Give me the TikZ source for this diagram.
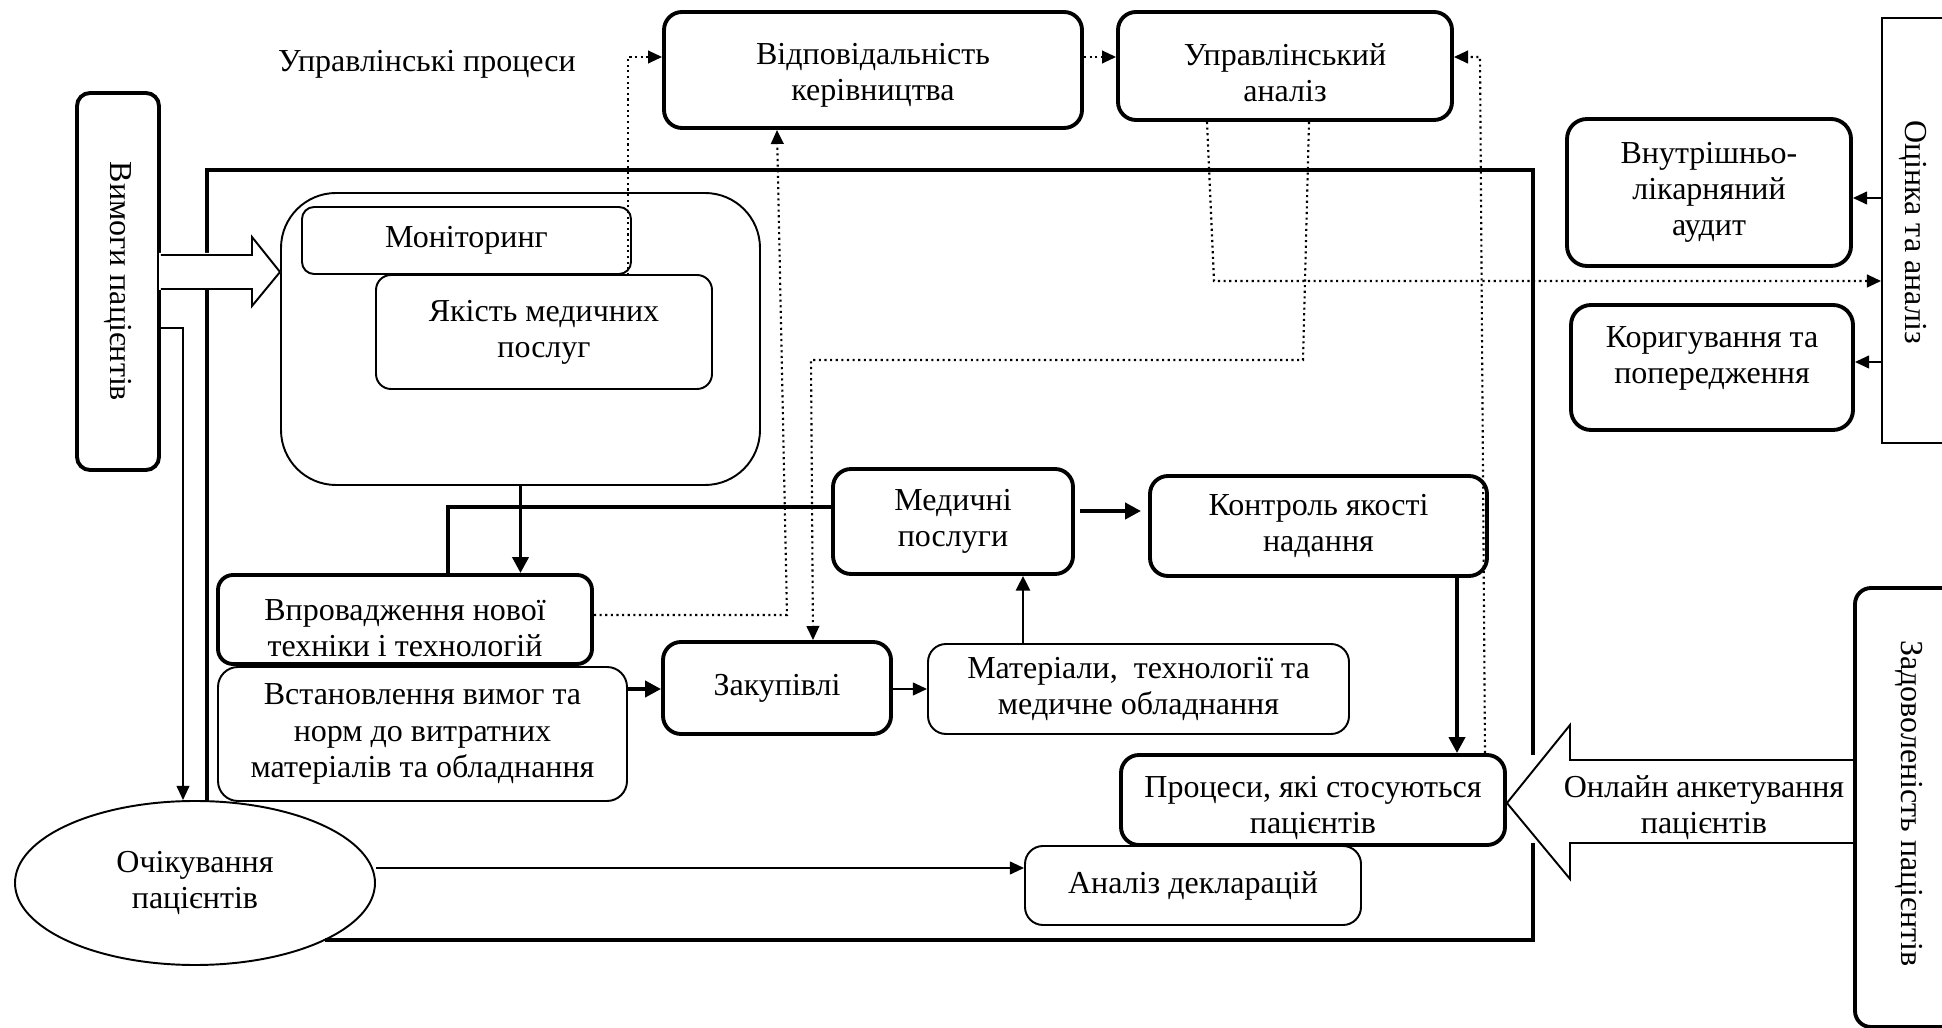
\documentclass[tikz,border=0pt]{standalone}
\usepackage{fontspec}
\setmainfont{Liberation Serif}
\usetikzlibrary{arrows.meta,shapes.geometric}
\begin{document}
\begin{tikzpicture}[x=0.01cm,y=-0.01cm,
  font=\fontsize{9.1}{10.3}\selectfont,
  sz/.style 2 args={minimum width=#1*0.01cm, minimum height=#2*0.01cm},
  tb/.style={draw, line width=1.1pt, rounded corners=0.15cm, align=center, inner sep=0pt},
  nb/.style={draw, line width=0.55pt, rounded corners=0.15cm, align=center, inner sep=0pt},
  txt/.style={align=center, inner sep=0pt},
  frameline/.style={line width=1pt},
  arrthin/.style={line width=0.55pt, -{Triangle[length=4pt,width=3.6pt]}},
  arrmid/.style={line width=0.8pt, -{Triangle[length=4.2pt,width=4pt]}},
  arrthick/.style={line width=1.1pt, -{Triangle[length=4.5pt,width=4.5pt]}},
  dotarr/.style={densely dotted, line width=0.6pt, -{Triangle[length=4pt,width=3.6pt]}},
  hollow/.style={line width=0.55pt}
]
\path[use as bounding box] (0,0) rectangle (1942,1028);
\clip (0,0) rectangle (1942,1028);

% outer frame
\draw[frameline] (207,253) -- (207,170) -- (1533,170) -- (1533,755);
\draw[frameline] (1533,843) -- (1533,940) -- (325,940);
\draw[frameline] (207,290) -- (207,801);

% nodes
\node[tb, rotate=-90, sz={377}{82}, rounded corners=0.13cm] (vimogy) at (118,281.5) {Вимоги пацієнтів};
\node[txt] (uprtxt) at (427,64) {Управлінські процеси};
\node[tb, sz={418}{116}, rounded corners=0.18cm,
  label={[txt,yshift=-0.05cm]center:Відповідальність\\керівництва}] (vidp) at (873,70) {};
\node[tb, sz={334}{108}, rounded corners=0.18cm,
  label={[txt,yshift=-0.07cm]center:Управлінський\\аналіз}] (upran) at (1285,66) {};
\node[tb, sz={284}{147}, rounded corners=0.2cm] (vnutr) at (1709,192.5) {Внутрішньо-\\лікарняний\\аудит};
\node[tb, sz={282}{125}, rounded corners=0.2cm,
  label={[txt,yshift=0.09cm]center:Коригування та\\попередження}] (koryg) at (1712,367.5) {};
\node[nb, rounded corners=0pt, sz={140}{425}] (otsinka) at (1952,230.5) {};
\node[txt, rotate=-90] (otsinkat) at (1913,232) {Оцінка та аналіз};

\node[nb, sz={479}{292}, rounded corners=0.55cm] (container) at (520.5,339) {};
\node[nb, sz={329}{67}, rounded corners=0.12cm] (monit) at (466.5,240.5) {Моніторинг};
\node[nb, sz={336}{114}, rounded corners=0.15cm] (yakist) at (544,332) {Якість медичних\\послуг};

\node[tb, sz={374}{89},
  label={[txt,yshift=-0.085cm]center:Впровадження нової\\техніки і технологій}] (vprov) at (405,619.5) {};
\node[nb, sz={409}{134}, rounded corners=0.2cm] (vstan) at (422.5,734) {Встановлення вимог та\\норм до витратних\\матеріалів та обладнання};
\node[draw, ellipse, line width=0.55pt, sz={360}{164}, inner sep=0pt, align=center] (ochik) at (195,883) {Очікування\\пацієнтів};

\node[tb, sz={240}{105}, rounded corners=0.18cm] (medpos) at (953,521.5) {Медичні\\послуги};
\node[tb, sz={337}{100}, rounded corners=0.18cm] (kontrol) at (1318.5,526) {Контроль якості\\надання};
\node[tb, sz={228}{92}, rounded corners=0.18cm] (zakup) at (777,688) {Закупівлі};
\node[nb, sz={421}{90}, rounded corners=0.18cm] (mater) at (1138.5,689) {Матеріали,\ \ технології та\\медичне обладнання};
\node[tb, sz={384}{90}, rounded corners=0.18cm,
  label={[txt,yshift=-0.08cm]center:Процеси, які стосуються\\пацієнтів}] (protsesy) at (1313,800) {};
\node[nb, sz={336}{79}, rounded corners=0.18cm] (analiz) at (1193,885.5) {Аналіз декларацій};

\node[tb, sz={110}{439}, rounded corners=0.16cm] (zadov) at (1910,807.5) {};
\node[txt, rotate=-90] (zadovt) at (1909,803.5) {Задоволеність пацієнтів};

% hollow arrows
\fill[white] (159,253) -- (252,253) -- (252,237) -- (281,272) -- (252,306) -- (252,290) -- (159,290) -- cycle;
\draw[hollow] (vimogy.north |- 0,255) -- (252,255) -- (252,237) -- (container.west |- 0,272) -- (252,306) -- (252,289) -- (vimogy.north |- 0,289);
\draw[hollow] (zadov.west |- 0,760) -- (1570,760) -- (1570,725) -- (protsesy.east |- 0,803) -- (1570,879) -- (1570,843) -- (zadov.west |- 0,843);
\node[txt] (online) at (1704,808) {Онлайн анкетування\\пацієнтів};

% solid connectors
\draw[arrthin] (vimogy.north |- 0,328) -| (ochik.north -| 183,0);
\draw[arrthick] (container.south) -- (vprov.north -| container.south);
\draw[line width=1pt] (vprov.north -| 448,0) |- (medpos.west |- 0,507);
\draw[arrthick] (vstan.east |- 0,689) -- (zakup.west |- 0,689);
\draw[arrthin] (zakup.east |- 0,689) -- (mater.west |- 0,689);
\draw[arrmid] (mater.north -| 1023,0) -- (medpos.south -| 1023,0);
\draw[arrthick, line width=1.4pt, shorten >=2pt] ([xshift=0.05cm]medpos.east |- 0,511) -- (kontrol.west |- 0,511);
\draw[arrthick] (kontrol.south -| 1457,0) -- (protsesy.north -| 1457,0);
\draw[arrthin] (ochik.east |- 0,868) -- (analiz.west |- 0,868);
\draw[arrthin] (otsinka.west |- 0,198) -- (vnutr.east |- 0,198);
\draw[arrthin] (otsinka.west |- 0,362) -- (koryg.east |- 0,362);

% dotted connectors
\draw[dotarr] (monit.south -| 628,0) |- (vidp.west |- 0,57);
\draw[dotarr] (vidp.east |- 0,57) -- (upran.west |- 0,57);
\draw[dotarr] (vprov.east |- 0,615) -- (787,615) -- (vidp.south -| 777,0);
\draw[dotarr] (upran.south -| 1309,0) -- (1303,360) -- (811,360) -- (zakup.north -| 813,0);
\draw[dotarr] (upran.south -| 1207,0) -- (1214,281) -- (otsinka.west |- 0,281);
\draw[dotarr] (protsesy.north -| 1485,0) -- (1480,57) -- (upran.east |- 0,57);
\end{tikzpicture}
\end{document}
